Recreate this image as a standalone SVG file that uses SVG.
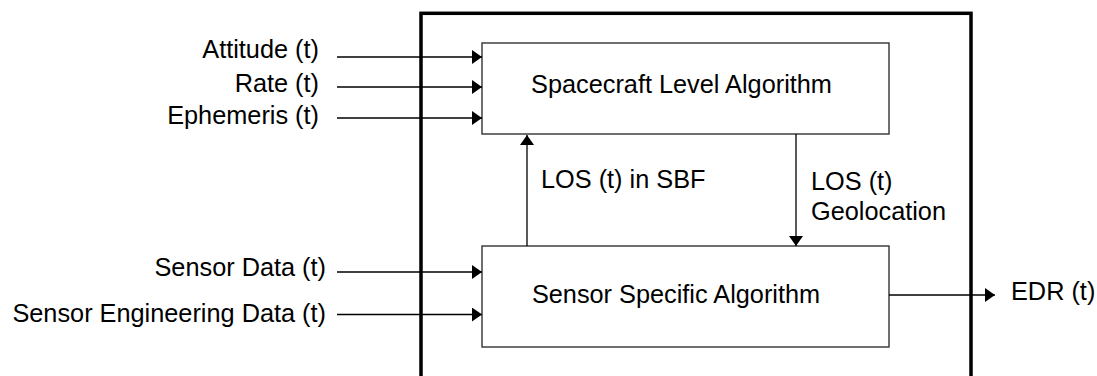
<svg xmlns="http://www.w3.org/2000/svg" width="1097" height="376" viewBox="0 0 1097 376">
<style>
text{font-family:"Liberation Sans",Arial,sans-serif;font-size:25.3px;fill:#000}
.box{fill:#fff;stroke:#333;stroke-width:1.4}
.outer{fill:none;stroke:#000;stroke-width:3.5}
.c{stroke:#000;stroke-width:1.3;fill:none}
.r{text-anchor:end}
.m{text-anchor:middle}
</style>
<defs>
<marker id="ah" markerUnits="userSpaceOnUse" markerWidth="11" markerHeight="15" refX="10" refY="7" orient="auto">
<path d="M0,0 L10,7 L0,14 z" fill="#000"/>
</marker>
</defs>
<g id="boundary"><rect class="outer" x="421" y="13.3" width="550" height="380"/></g>
<g id="spacecraft"><rect class="box" x="482" y="43" width="407" height="91"/><text class="m" x="681.5" y="92.5">Spacecraft Level Algorithm</text></g>
<g id="sensor"><rect class="box" x="482" y="246" width="407" height="101"/><text class="m" x="676" y="303">Sensor Specific Algorithm</text></g>
<g id="labels">
<text class="r" x="319" y="58">Attitude (t)</text>
<text class="r" x="319" y="92">Rate (t)</text>
<text class="r" x="319" y="124">Ephemeris (t)</text>
<text class="r" x="326" y="276">Sensor Data (t)</text>
<text class="r" x="326" y="322">Sensor Engineering Data (t)</text>
<text x="1011" y="300">EDR (t)</text>
<text x="541" y="187.5">LOS (t) in SBF</text>
<text x="811" y="190">LOS (t)</text>
<text x="811" y="220">Geolocation</text>
</g>
<g id="connectors">
<line class="c" x1="337" y1="57" x2="482" y2="57" marker-end="url(#ah)"/>
<line class="c" x1="337" y1="87" x2="482" y2="87" marker-end="url(#ah)"/>
<line class="c" x1="337" y1="118" x2="482" y2="118" marker-end="url(#ah)"/>
<line class="c" x1="337" y1="272" x2="482" y2="272" marker-end="url(#ah)"/>
<line class="c" x1="337" y1="314.5" x2="482" y2="314.5" marker-end="url(#ah)"/>
<line class="c" x1="527" y1="246" x2="527" y2="135" marker-end="url(#ah)"/>
<line class="c" x1="796" y1="134" x2="796" y2="246" marker-end="url(#ah)"/>
<line class="c" x1="889" y1="295" x2="995" y2="295" marker-end="url(#ah)"/>
</g>
</svg>
